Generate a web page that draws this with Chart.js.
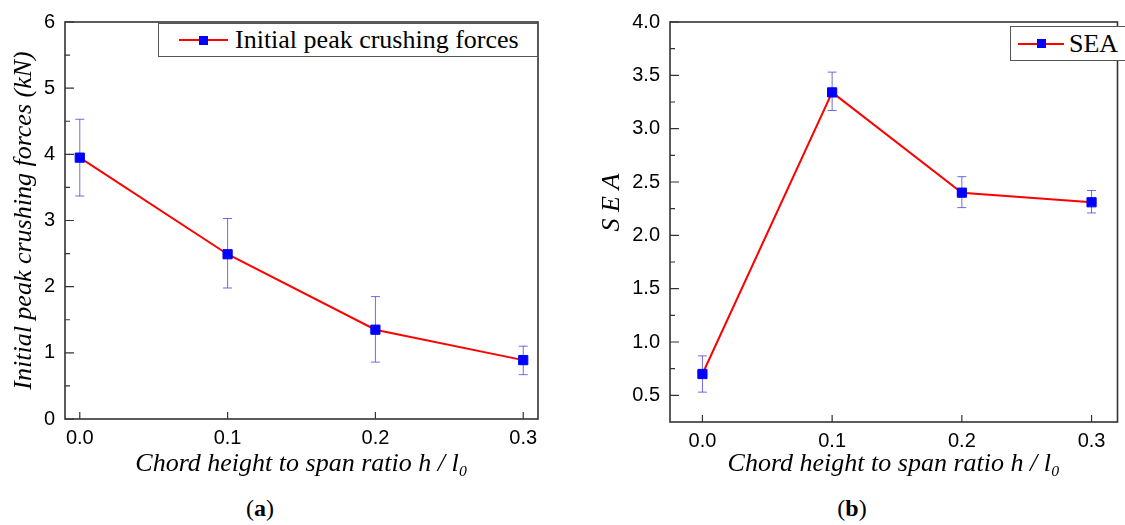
<!DOCTYPE html>
<html>
<head>
<meta charset="utf-8">
<script src="https://cdn.jsdelivr.net/npm/chart.js@4/dist/chart.umd.min.js"></script>
<style>
  html, body { margin: 0; padding: 0; background: #fff; overflow: hidden; }
  #wrap { position: relative; width: 1125px; height: 525px; overflow: hidden; }
  .panel { position: absolute; top: 0; width: 560px; height: 482px; }
  .leg { position: absolute; border: 1px solid #555; background: #fff; box-sizing: border-box; }
  .leg .sym { position: absolute; top: 50%; height: 2px; margin-top: -1px; background: #ff0000; }
  .leg .sym i { position: absolute; left: 50%; top: 50%; width: 9px; height: 9px; margin: -4.5px 0 0 -4.5px; background: #0000ff; }
  .leg .txt { position: absolute; top: 50%; transform: translateY(-50%); font: 26px "Liberation Serif", serif; color: #000; white-space: nowrap; }
  .cap { position: absolute; top: 495px; transform: translateX(-50%); font: 24px "Liberation Serif", serif; color: #000; }
</style>
</head>
<body>
<div id="wrap">
  <div class="panel" style="left:0"><canvas id="chartA"></canvas></div>
  <div class="panel" style="left:565px"><canvas id="chartB"></canvas></div>

  <div class="leg" style="left:158px;top:23px;width:380px;height:34px">
    <div class="sym" style="left:20px;width:49px"><i></i></div>
    <div class="txt" style="left:76px">Initial peak crushing forces</div>
  </div>
  <div class="leg" style="left:1010px;top:26px;width:130px;height:35px">
    <div class="sym" style="left:7px;width:46px"><i></i></div>
    <div class="txt" style="left:58px">SEA</div>
  </div>

  <div class="cap" style="left:260px">(<b>a</b>)</div>
  <div class="cap" style="left:852px">(<b>b</b>)</div>
</div>

<script>
// chord height to span ratio h / l0
const hRatio = [0, 0.1, 0.2, 0.3];
const xTicks = [0, 0.1, 0.2, 0.3];

// (a) initial peak crushing forces, kN
const peakForce = [3.95, 2.49, 1.35, 0.89];
const peakErrLow = [3.37, 1.98, 0.86, 0.67];
const peakErrHigh = [4.53, 3.03, 1.85, 1.10];
const peakYTicks = [0, 1, 2, 3, 4, 5, 6];

// (b) SEA
const sea = [0.70, 3.34, 2.40, 2.31];
const seaErrLow = [0.53, 3.17, 2.26, 2.21];
const seaErrHigh = [0.87, 3.53, 2.55, 2.42];
const seaYTicks = [0.5, 1.0, 1.5, 2.0, 2.5, 3.0, 3.5, 4.0];

const tickFont = { family: 'Liberation Sans, Arial, sans-serif', size: 20 };
const titleFont = { family: 'Liberation Serif, Times New Roman, serif', size: 26, style: 'italic' };

// error bars drawn under the line and markers
const errorBars = {
  id: 'errorBars',
  beforeDatasetsDraw(chart, args, opts) {
    const { ctx, scales: { x, y } } = chart;
    ctx.save();
    ctx.strokeStyle = 'rgba(60, 60, 220, 0.75)';
    ctx.lineWidth = 1;
    opts.low.forEach((lo, i) => {
      const px = x.getPixelForValue(hRatio[i]);
      const y1 = y.getPixelForValue(lo);
      const y2 = y.getPixelForValue(opts.high[i]);
      ctx.beginPath();
      ctx.moveTo(px, y1); ctx.lineTo(px, y2);
      ctx.moveTo(px - 4.5, y1); ctx.lineTo(px + 4.5, y1);
      ctx.moveTo(px - 4.5, y2); ctx.lineTo(px + 4.5, y2);
      ctx.stroke();
    });
    ctx.restore();
  }
};

// box frame and inward ticks, Origin style
const frame = {
  id: 'frame',
  afterDraw(chart, args, opts) {
    const { ctx, chartArea: a, scales: { x, y } } = chart;
    ctx.save();
    ctx.strokeStyle = '#333';
    ctx.lineWidth = 1.6;
    ctx.strokeRect(a.left, a.top, a.right - a.left, a.bottom - a.top);
    ctx.beginPath();
    const yt = opts.yTicks;
    yt.forEach((v, i) => {
      const p = y.getPixelForValue(v);
      ctx.moveTo(a.left, p); ctx.lineTo(a.left + 9, p);
      if (i < yt.length - 1) {
        const m = y.getPixelForValue((v + yt[i + 1]) / 2);
        ctx.moveTo(a.left, m); ctx.lineTo(a.left + 5, m);
      }
    });
    xTicks.forEach(v => {
      const p = x.getPixelForValue(v);
      ctx.moveTo(p, a.bottom); ctx.lineTo(p, a.bottom - 7);
    });
    ctx.lineWidth = 1.2;
    ctx.stroke();
    ctx.restore();
  }
};

function makeChart(id, o) {
  return new Chart(document.getElementById(id), {
    type: 'line',
    data: {
      datasets: [{
        data: hRatio.map((h, i) => ({ x: h, y: o.values[i] })),
        borderColor: '#ff0000',
        borderWidth: 2,
        tension: 0,
        pointStyle: 'rect',
        pointRadius: 6.5,
        pointBackgroundColor: '#0000ff',
        pointBorderColor: '#0000ff',
        pointBorderWidth: 1
      }]
    },
    options: {
      responsive: true,
      maintainAspectRatio: false,
      animation: false,
      layout: { padding: o.padding },
      plugins: {
        legend: { display: false },
        tooltip: { enabled: false },
        errorBars: { low: o.low, high: o.high },
        frame: { yTicks: o.yTicks }
      },
      scales: {
        x: {
          type: 'linear',
          min: o.xMin,
          max: o.xMax,
          afterBuildTicks: s => { s.ticks = xTicks.map(v => ({ value: v })); },
          afterFit: s => { s.height = o.xHeight; },
          ticks: { callback: v => v.toFixed(1), font: tickFont, color: '#000', padding: 7, maxRotation: 0, autoSkip: false },
          grid: { display: false, drawTicks: false },
          border: { display: false },
          title: { display: true, text: 'Chord height to span ratio h / l\u2080', font: titleFont, color: '#000', padding: { top: 0, bottom: 2 } }
        },
        y: {
          min: o.yMin,
          max: o.yMax,
          afterBuildTicks: s => { s.ticks = o.yTicks.map(v => ({ value: v })); },
          afterFit: s => { s.width = o.yWidth; },
          ticks: { callback: o.yFmt, font: tickFont, color: '#000', padding: 10 },
          grid: { display: false, drawTicks: false },
          border: { display: false },
          title: { display: true, text: o.yTitle, font: titleFont, color: '#000', padding: { top: o.yTitlePad, bottom: 0 } }
        }
      }
    },
    plugins: [errorBars, frame]
  });
}

makeChart('chartA', {
  values: peakForce, low: peakErrLow, high: peakErrHigh, yTicks: peakYTicks,
  xMin: -0.01, xMax: 0.31, yMin: 0, yMax: 6,
  yFmt: v => String(v),
  yTitle: 'Initial peak crushing forces (kN)',
  padding: { top: 21, right: 22, left: 0, bottom: 0 },
  xHeight: 63, yWidth: 65, yTitlePad: 9
});

makeChart('chartB', {
  values: sea, low: seaErrLow, high: seaErrHigh, yTicks: seaYTicks,
  xMin: -0.025, xMax: 0.32, yMin: 0.25, yMax: 4.0,
  yFmt: v => v.toFixed(1),
  // leading spaces lift the label, as in the original
  yTitle: '      S E A',
  padding: { top: 22, right: 1, left: 0, bottom: 0 },
  xHeight: 60, yWidth: 105, yTitlePad: 32
});
</script>
</body>
</html>
